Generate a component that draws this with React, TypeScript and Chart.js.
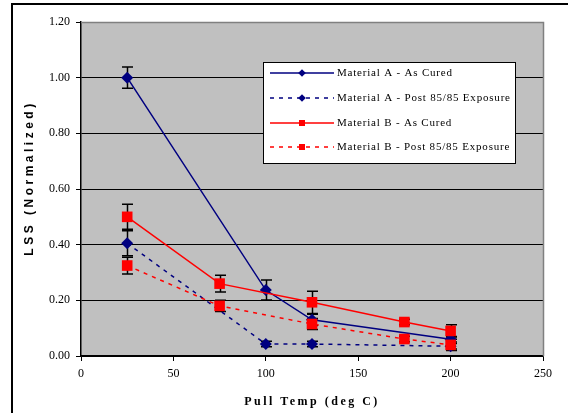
import { useEffect, useRef } from 'react';
import { Chart, registerables } from 'chart.js';

Chart.register(...registerables);

const xTicks = [0, 50, 100, 150, 200, 250];
const yTicks = [0, 0.2, 0.4, 0.6, 0.8, 1.0, 1.2];

const seriesNames = [
  'Material A - As Cured',
  'Material A - Post 85/85 Exposure',
  'Material B - As Cured',
  'Material B - Post 85/85 Exposure',
];

const aCuredX = [25, 100, 125, 200];
const aCuredY = [1.0, 0.237, 0.13, 0.06];
const aCuredErr = [0.038, 0.036, 0.02, 0.01];

const aPostX = [25, 100, 125, 200];
const aPostY = [0.405, 0.043, 0.043, 0.035];
const aPostErr = [0.045, 0.01, 0.01, 0.01];

const bCuredX = [25, 75, 125, 175, 200];
const bCuredY = [0.5, 0.26, 0.193, 0.122, 0.09];
const bCuredErr = [0.045, 0.03, 0.04, 0.01, 0.022];

const bPostX = [25, 75, 125, 175, 200];
const bPostY = [0.325, 0.18, 0.115, 0.061, 0.04];
const bPostErr = [0.03, 0.02, 0.02, 0.01, 0.02];

const xTitle = 'Pull Temp (deg C)';
const yTitle = 'LSS (Normalized)';

const NAVY = '#000080';
const RED = '#FF0000';
const SERIF = '"Liberation Serif", "Times New Roman", serif';
const SANS = '"Liberation Sans", Arial, sans-serif';

const pts = (xs: number[], ys: number[]) => xs.map((x, i) => ({ x, y: ys[i] }));
const errs = [aCuredErr, aPostErr, bCuredErr, bPostErr];

export default function App() {
  const ref = useRef<HTMLCanvasElement | null>(null);

  useEffect(() => {
    const canvas = ref.current;
    if (!canvas) return;

    const bgPlugin = {
      id: 'bgPlugin',
      beforeDraw(chart: any) {
        const { ctx, chartArea } = chart;
        ctx.save();
        ctx.fillStyle = '#C0C0C0';
        ctx.fillRect(chartArea.left, chartArea.top, chartArea.right - chartArea.left, chartArea.bottom - chartArea.top);
        ctx.restore();
      },
      afterDraw(chart: any) {
        const { ctx, chartArea } = chart;
        ctx.save();
        // plot right/top border
        ctx.strokeStyle = '#808080';
        ctx.lineWidth = 1.5;
        ctx.beginPath();
        ctx.moveTo(chartArea.left, chartArea.top + 0.5);
        ctx.lineTo(chartArea.right + 0.5, chartArea.top + 0.5);
        ctx.lineTo(chartArea.right + 0.5, chartArea.bottom);
        ctx.stroke();
        // outer frame
        ctx.strokeStyle = '#000';
        ctx.lineWidth = 2;
        ctx.strokeRect(12, 4, 700, 600);

        // axis titles
        ctx.fillStyle = '#000';
        (ctx as any).letterSpacing = '2.5px';
        ctx.font = `bold 12px ${SERIF}`;
        ctx.textAlign = 'center';
        ctx.textBaseline = 'middle';
        ctx.fillText(xTitle, 312, 402);
        ctx.save();
        ctx.translate(30, 178);
        ctx.rotate(-Math.PI / 2);
        (ctx as any).letterSpacing = '3.5px';
        ctx.font = `bold 12px ${SANS}`;
        ctx.fillText(yTitle, 0, 0);
        ctx.restore();
        (ctx as any).letterSpacing = '0px';

        // legend
        const lx = 263, ly = 62, lw = 252, lh = 101;
        ctx.fillStyle = '#fff';
        ctx.fillRect(lx, ly, lw, lh);
        ctx.strokeStyle = '#000';
        ctx.lineWidth = 1;
        ctx.strokeRect(lx + 0.5, ly + 0.5, lw, lh);
        const rows = [73, 98, 123, 147];
        chart.data.datasets.forEach((ds: any, i: number) => {
          const y = rows[i];
          ctx.save();
          ctx.strokeStyle = ds.borderColor;
          ctx.lineWidth = 1.5;
          ctx.setLineDash(ds.borderDash || []);
          ctx.beginPath();
          ctx.moveTo(270, y);
          ctx.lineTo(334, y);
          ctx.stroke();
          ctx.setLineDash([]);
          ctx.fillStyle = ds.borderColor;
          ctx.beginPath();
          if (ds.pointStyle === 'rectRot') {
            const r = 3.8;
            ctx.moveTo(302, y - r);
            ctx.lineTo(302 + r, y);
            ctx.lineTo(302, y + r);
            ctx.lineTo(302 - r, y);
            ctx.closePath();
          } else {
            ctx.rect(299, y - 3, 6, 6);
          }
          ctx.fill();
          ctx.fillStyle = '#000';
          ctx.font = `11px ${SERIF}`;
          (ctx as any).letterSpacing = '0.8px';
          ctx.textAlign = 'left';
          ctx.textBaseline = 'middle';
          ctx.fillText(ds.label, 337, y);
          (ctx as any).letterSpacing = '0px';
          ctx.restore();
        });
        ctx.restore();
      },
    };

    const errPlugin = {
      id: 'errPlugin',
      beforeDatasetsDraw(chart: any) {
        const { ctx } = chart;
        const xs = chart.scales.x;
        const ys = chart.scales.y;
        ctx.save();
        ctx.strokeStyle = '#000';
        ctx.lineWidth = 1.5;
        chart.data.datasets.forEach((ds: any, i: number) => {
          ds.data.forEach((p: any, j: number) => {
            const e = errs[i][j];
            const px = Math.round(xs.getPixelForValue(p.x)) + 0.5;
            const top = ys.getPixelForValue(p.y + e);
            const bot = ys.getPixelForValue(p.y - e);
            ctx.beginPath();
            ctx.moveTo(px, top);
            ctx.lineTo(px, bot);
            ctx.moveTo(px - 5.5, top);
            ctx.lineTo(px + 5.5, top);
            ctx.moveTo(px - 5.5, bot);
            ctx.lineTo(px + 5.5, bot);
            ctx.stroke();
          });
        });
        ctx.restore();
      },
    };

    const chart = new Chart(canvas, {
      type: 'line',
      data: {
        datasets: [
          {
            label: seriesNames[0],
            data: pts(aCuredX, aCuredY),
            borderColor: NAVY,
            backgroundColor: NAVY,
            borderWidth: 1.5,
            pointStyle: 'rectRot',
            pointRadius: 6,
            pointBorderWidth: 0,
            tension: 0,
            order: 4,
          },
          {
            label: seriesNames[1],
            data: pts(aPostX, aPostY),
            borderColor: NAVY,
            backgroundColor: NAVY,
            borderWidth: 1.5,
            borderDash: [4, 5],
            pointStyle: 'rectRot',
            pointRadius: 6,
            pointBorderWidth: 0,
            tension: 0,
            order: 3,
          },
          {
            label: seriesNames[2],
            data: pts(bCuredX, bCuredY),
            borderColor: RED,
            backgroundColor: RED,
            borderWidth: 1.5,
            pointStyle: 'rect',
            pointRadius: 7.5,
            pointBorderWidth: 0,
            tension: 0,
            order: 2,
          },
          {
            label: seriesNames[3],
            data: pts(bPostX, bPostY),
            borderColor: RED,
            backgroundColor: RED,
            borderWidth: 1.5,
            borderDash: [4, 5],
            pointStyle: 'rect',
            pointRadius: 7.5,
            pointBorderWidth: 0,
            tension: 0,
            order: 1,
          },
        ] as any,
      },
      options: {
        animation: false,
        responsive: false,
        devicePixelRatio: 1,
        layout: { padding: { top: 22, right: 25, left: 0, bottom: 0 } },
        plugins: {
          legend: { display: false },
          tooltip: { enabled: false },
        },
        scales: {
          x: {
            type: 'linear',
            min: 0,
            max: 250,
            afterBuildTicks: (s: any) => {
              s.ticks = xTicks.map((v) => ({ value: v }));
            },
            afterFit: (s: any) => {
              s.height = 57;
            },
            ticks: {
              color: '#000',
              font: { family: SERIF, size: 12 },
              padding: 6,
              maxRotation: 0,
            },
            grid: {
              drawOnChartArea: false,
              drawTicks: true,
              tickLength: 5,
              tickColor: '#000',
              tickWidth: 1,
            },
            border: { color: '#000', width: 1.5 },
          },
          y: {
            type: 'linear',
            min: 0,
            max: 1.2,
            afterBuildTicks: (s: any) => {
              s.ticks = yTicks.map((v) => ({ value: v }));
            },
            afterFit: (s: any) => {
              s.width = 81;
            },
            ticks: {
              color: '#000',
              font: { family: SERIF, size: 12 },
              padding: 6,
              callback: (v: any) => Number(v).toFixed(2),
            },
            grid: {
              color: (c: any) => (c.tick && Math.abs(c.tick.value - 1.2) < 1e-6 ? 'rgba(0,0,0,0)' : '#000'),
              lineWidth: 1,
              tickLength: 5,
              tickColor: '#000',
            },
            border: { color: '#000', width: 1.5 },
          },
        },
      } as any,
      plugins: [bgPlugin, errPlugin],
    });

    return () => chart.destroy();
  }, []);

  return (
    <div style={{ position: 'absolute', left: 0, top: 0, width: 568, height: 413, background: '#fff' }}>
      <canvas ref={ref} width={568} height={413} style={{ display: 'block', width: 568, height: 413 }} />
    </div>
  );
}
